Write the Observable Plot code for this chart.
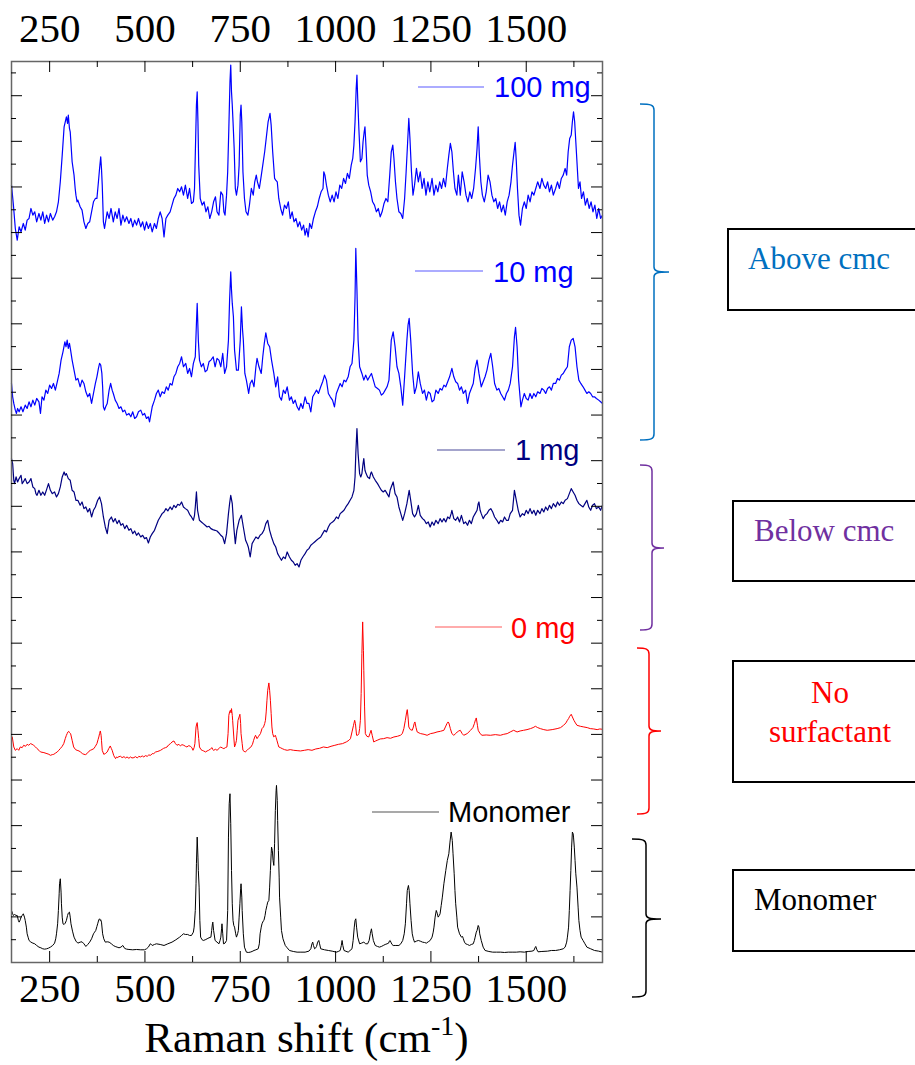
<!DOCTYPE html>
<html><head><meta charset="utf-8">
<script src="https://cdn.jsdelivr.net/npm/d3@7"></script>
<script src="https://cdn.jsdelivr.net/npm/@observablehq/plot@0.6"></script>
<style>body{margin:0;background:#fff}</style>
</head><body><div id="chart"></div>
<script>
// ---------- data ----------
const labelTicks = [250, 500, 750, 1000, 1250, 1500];
const minorXTicks = [375, 625, 875, 1125, 1375, 1625];
const yMajorTicks = d3.range(2, 40, 2);
const yMinorTicks = d3.range(1, 40, 2);
const seriesNames = ["100 mg", "10 mg", "1 mg", "0 mg", "Monomer"];
// [Raman shift (cm-1), intensity (a.u.)]
const spec100 = [[150,210],[155,150],[160,80],[165,45],[170,85],[175,70],[181,95],[186,75],[191,105],[196,110],[201,140],[206,120],[211,130],[216,100],[222,125],[227,105],[232,130],[237,95],[242,120],[247,100],[252,125],[258,105],[263,115],[268,130],[273,160],[278,220],[283,300],[288,385],[291,400],[294,415],[297,395],[299,420],[302,380],[304,370],[309,280],[314,240],[317,200],[319,180],[322,160],[324,165],[330,145],[335,135],[340,100],[345,80],[350,95],[355,100],[360,130],[365,160],[370,170],[374,170],[378,220],[381,260],[384,295],[386,260],[388,210],[391,100],[394,80],[396,95],[401,130],[406,110],[411,140],[417,100],[422,130],[427,110],[432,140],[437,90],[442,120],[447,100],[452,115],[458,95],[463,110],[468,85],[473,105],[478,90],[483,110],[489,85],[494,100],[499,75],[504,100],[509,80],[514,95],[519,70],[525,95],[530,80],[535,110],[540,130],[545,110],[550,55],[555,110],[560,120],[566,130],[571,150],[576,170],[581,180],[586,200],[591,190],[596,205],[601,180],[606,210],[612,170],[617,200],[622,155],[627,160],[630,200],[633,350],[635,450],[637,490],[639,400],[641,270],[645,170],[650,150],[655,160],[660,130],[665,145],[670,110],[675,130],[680,160],[685,175],[689,130],[694,120],[699,190],[704,180],[707,130],[710,120],[714,180],[717,250],[720,380],[723,520],[725,570],[727,490],[729,450],[731,400],[734,320],[737,200],[740,180],[744,210],[747,270],[750,420],[752,450],[754,400],[757,250],[761,170],[765,130],[770,120],[774,150],[779,200],[784,180],[788,220],[792,240],[795,220],[800,200],[804,230],[809,270],[814,310],[819,360],[823,400],[826,415],[828,425],[831,390],[835,310],[840,230],[843,225],[847,220],[851,170],[856,140],[861,120],[866,150],[871,140],[876,160],[881,110],[886,130],[891,100],[896,110],[901,85],[906,100],[911,75],[916,90],[920,60],[924,80],[928,55],[932,95],[937,80],[942,110],[947,130],[952,145],[957,170],[962,190],[967,200],[969,250],[972,240],[976,210],[981,180],[986,160],[991,180],[996,160],[1001,190],[1006,170],[1011,210],[1016,200],[1021,230],[1026,215],[1031,245],[1036,230],[1041,270],[1045,290],[1048,330],[1051,400],[1054,500],[1056,540],[1058,470],[1061,380],[1065,280],[1069,290],[1072,340],[1075,370],[1077,385],[1080,320],[1083,240],[1087,210],[1092,190],[1097,160],[1102,150],[1107,130],[1112,140],[1117,115],[1122,130],[1127,155],[1132,170],[1137,160],[1142,240],[1146,310],[1150,330],[1153,290],[1157,220],[1161,170],[1166,130],[1171,125],[1176,110],[1181,170],[1185,250],[1189,340],[1192,410],[1195,350],[1199,250],[1203,180],[1207,210],[1212,260],[1217,220],[1222,250],[1227,200],[1232,230],[1237,180],[1242,220],[1247,190],[1253,230],[1258,180],[1263,210],[1268,190],[1273,220],[1278,200],[1283,230],[1288,205],[1293,260],[1297,300],[1301,335],[1305,310],[1309,250],[1313,200],[1318,180],[1322,240],[1327,180],[1332,250],[1337,220],[1342,180],[1347,160],[1352,190],[1357,170],[1362,200],[1367,260],[1371,320],[1374,385],[1377,300],[1381,220],[1385,180],[1390,160],[1395,190],[1400,240],[1405,220],[1410,180],[1415,160],[1420,170],[1425,140],[1430,160],[1435,130],[1440,150],[1445,120],[1450,160],[1455,180],[1460,220],[1464,270],[1468,310],[1471,338],[1474,280],[1477,200],[1481,120],[1485,90],[1490,140],[1495,160],[1500,140],[1505,180],[1510,160],[1515,190],[1520,180],[1525,200],[1530,220],[1536,200],[1541,230],[1546,210],[1551,200],[1556,220],[1561,190],[1566,210],[1571,180],[1577,200],[1582,220],[1587,200],[1592,230],[1597,240],[1602,260],[1606,240],[1610,310],[1614,350],[1618,360],[1621,400],[1624,430],[1627,400],[1630,340],[1633,280],[1637,200],[1641,220],[1645,170],[1650,190],[1655,150],[1660,170],[1665,140],[1670,160],[1675,130],[1680,150],[1685,110],[1690,140],[1695,110],[1700,120]];
const spec10 = [[150,170],[153,130],[156,110],[160,90],[163,80],[166,95],[170,85],[175,100],[180,85],[186,105],[191,95],[196,115],[201,100],[206,120],[211,105],[216,125],[222,115],[226,80],[230,130],[235,120],[240,150],[245,140],[250,165],[255,155],[260,170],[265,150],[270,175],[275,200],[280,240],[285,265],[290,295],[293,280],[296,300],[299,275],[302,290],[305,270],[309,240],[314,210],[319,180],[324,185],[330,160],[335,180],[340,170],[345,145],[350,130],[355,140],[360,110],[365,140],[370,170],[374,190],[378,215],[381,230],[384,225],[387,200],[389,160],[391,100],[394,90],[397,100],[401,110],[406,150],[410,170],[414,150],[417,140],[422,120],[427,110],[432,95],[437,100],[442,85],[447,90],[452,75],[458,80],[463,70],[468,85],[473,65],[478,70],[483,85],[489,90],[494,75],[499,80],[504,65],[509,70],[512,55],[516,80],[519,100],[525,120],[530,140],[535,150],[540,130],[545,145],[551,140],[556,160],[561,150],[566,170],[571,165],[576,190],[581,200],[586,220],[591,230],[596,250],[601,220],[607,230],[612,200],[617,215],[622,190],[627,230],[632,250],[635,350],[637,410],[640,300],[643,240],[648,220],[653,230],[658,205],[663,210],[668,235],[673,240],[679,250],[684,220],[689,245],[694,240],[699,220],[704,260],[709,200],[714,220],[719,300],[722,420],[725,505],[727,450],[729,410],[732,370],[735,270],[740,210],[745,210],[750,300],[753,400],[756,330],[758,300],[762,200],[766,180],[772,140],[776,170],[781,180],[786,160],[791,220],[794,245],[799,220],[805,200],[809,250],[813,290],[817,322],[822,290],[827,280],[832,240],[838,200],[843,160],[848,190],[853,130],[858,120],[863,150],[868,140],[873,160],[879,120],[884,130],[889,110],[894,120],[899,100],[904,90],[909,110],[914,95],[920,130],[925,110],[930,110],[935,85],[940,130],[945,140],[950,150],[955,140],[961,160],[966,175],[971,195],[976,180],[981,140],[986,130],[992,120],[997,100],[1002,140],[1007,155],[1012,170],[1017,160],[1022,180],[1027,175],[1033,190],[1038,220],[1043,230],[1048,300],[1051,430],[1053,575],[1056,450],[1059,300],[1063,220],[1069,200],[1074,180],[1079,195],[1084,180],[1089,190],[1094,200],[1099,180],[1104,160],[1110,155],[1115,150],[1120,135],[1125,140],[1130,150],[1135,160],[1140,180],[1143,240],[1146,300],[1151,325],[1156,280],[1161,220],[1166,200],[1171,160],[1176,105],[1181,190],[1187,300],[1190,345],[1193,365],[1197,300],[1202,200],[1207,140],[1212,160],[1217,205],[1222,170],[1228,140],[1233,150],[1238,120],[1243,145],[1248,140],[1253,115],[1258,120],[1263,150],[1269,140],[1274,155],[1279,150],[1284,165],[1289,160],[1294,175],[1299,190],[1305,215],[1310,190],[1315,175],[1320,170],[1325,150],[1330,160],[1335,140],[1341,150],[1346,110],[1351,140],[1356,155],[1361,170],[1366,215],[1371,240],[1376,200],[1382,160],[1387,175],[1392,190],[1397,210],[1402,240],[1407,260],[1412,220],[1417,170],[1423,150],[1428,155],[1433,140],[1438,130],[1443,120],[1448,140],[1453,150],[1458,170],[1464,220],[1469,310],[1472,338],[1476,280],[1480,180],[1486,100],[1490,120],[1495,140],[1500,125],[1505,120],[1510,140],[1515,125],[1520,140],[1525,130],[1530,145],[1536,140],[1541,155],[1546,150],[1551,140],[1556,155],[1561,160],[1566,150],[1571,170],[1577,170],[1582,185],[1587,180],[1592,195],[1597,200],[1602,210],[1608,220],[1613,280],[1618,300],[1623,305],[1628,280],[1633,220],[1638,180],[1643,170],[1649,160],[1654,150],[1659,140],[1664,145],[1669,140],[1674,130],[1679,130],[1684,125],[1690,120],[1695,115],[1700,110]];
const spec1 = [[150,485],[153,470],[156,420],[158,410],[162,430],[166,415],[170,425],[175,435],[178,410],[181,415],[186,425],[191,410],[196,415],[201,425],[206,400],[211,395],[214,380],[217,375],[222,390],[227,375],[232,385],[237,375],[242,392],[247,410],[252,390],[257,380],[263,385],[268,370],[273,380],[278,400],[283,430],[288,445],[291,435],[294,440],[299,425],[304,420],[309,390],[314,385],[319,360],[324,360],[330,345],[335,355],[340,335],[345,340],[350,325],[355,335],[360,310],[365,330],[370,340],[376,360],[381,370],[386,350],[391,310],[396,280],[401,260],[406,300],[412,310],[417,295],[422,305],[427,290],[432,300],[437,285],[442,290],[447,275],[452,285],[458,270],[463,275],[468,260],[473,268],[478,255],[483,262],[489,250],[494,255],[499,245],[504,248],[509,232],[514,250],[519,260],[525,270],[530,285],[535,300],[540,310],[545,320],[550,325],[555,335],[560,328],[566,340],[571,332],[576,345],[581,338],[586,348],[591,345],[596,355],[601,340],[606,335],[612,330],[617,318],[622,310],[627,300],[630,315],[632,340],[635,385],[638,330],[643,300],[648,295],[653,290],[658,285],[663,280],[668,282],[673,275],[678,272],[684,270],[689,268],[694,262],[699,255],[704,250],[709,230],[714,260],[719,320],[722,350],[725,375],[729,350],[733,280],[737,230],[741,270],[747,300],[753,315],[758,280],[764,240],[768,230],[771,220],[776,190],[781,230],[786,240],[791,250],[797,245],[802,255],[807,260],[812,270],[817,290],[822,300],[827,270],[832,250],[838,230],[843,220],[848,200],[853,190],[858,180],[863,190],[868,185],[873,205],[879,190],[884,180],[889,175],[894,165],[899,170],[904,160],[909,180],[914,190],[920,200],[925,210],[930,215],[935,225],[940,230],[945,235],[950,240],[955,245],[961,250],[966,260],[971,270],[976,265],[981,280],[986,290],[992,295],[997,300],[1002,310],[1007,305],[1012,320],[1017,325],[1022,330],[1027,340],[1033,350],[1038,360],[1043,370],[1048,390],[1051,430],[1053,500],[1056,575],[1059,500],[1063,440],[1066,430],[1069,440],[1072,470],[1074,485],[1077,450],[1080,440],[1084,430],[1089,425],[1092,440],[1094,445],[1099,430],[1104,420],[1110,410],[1115,400],[1120,390],[1125,385],[1130,390],[1135,380],[1140,370],[1143,390],[1146,400],[1151,415],[1156,380],[1161,370],[1166,340],[1171,320],[1176,300],[1181,320],[1187,350],[1190,370],[1193,390],[1197,360],[1202,320],[1207,310],[1212,320],[1217,345],[1222,315],[1228,305],[1233,300],[1238,290],[1243,295],[1248,280],[1253,295],[1258,285],[1263,300],[1269,290],[1274,305],[1279,295],[1284,305],[1289,295],[1294,310],[1299,305],[1303,320],[1305,330],[1310,305],[1315,300],[1320,310],[1325,295],[1330,315],[1336,290],[1341,295],[1346,285],[1351,300],[1356,290],[1361,310],[1366,320],[1371,330],[1374,350],[1376,355],[1379,330],[1382,320],[1387,305],[1392,315],[1397,320],[1402,330],[1407,335],[1412,325],[1417,310],[1423,300],[1428,290],[1433,300],[1438,295],[1443,310],[1448,300],[1453,300],[1458,320],[1464,330],[1469,390],[1474,360],[1479,330],[1484,310],[1490,320],[1495,315],[1500,330],[1505,320],[1510,335],[1515,320],[1520,330],[1525,315],[1530,330],[1536,320],[1541,335],[1546,325],[1551,340],[1556,330],[1561,345],[1566,335],[1571,350],[1577,340],[1582,355],[1587,345],[1592,355],[1597,350],[1602,360],[1608,365],[1613,380],[1618,395],[1623,385],[1628,375],[1633,360],[1638,350],[1643,345],[1649,340],[1654,350],[1659,360],[1664,340],[1669,330],[1674,345],[1679,350],[1684,335],[1690,340],[1695,330],[1700,345]];
const spec0 = [[152,190],[156,160],[160,150],[165,155],[169,150],[173,160],[178,158],[182,165],[187,162],[191,168],[195,165],[200,170],[204,168],[208,165],[213,160],[217,155],[222,150],[226,145],[235,143],[243,140],[248,138],[252,135],[257,137],[261,138],[266,142],[270,145],[274,150],[278,155],[283,162],[287,170],[291,185],[294,195],[296,200],[298,205],[300,207],[302,203],[305,200],[309,180],[313,160],[318,152],[322,150],[327,148],[331,145],[336,140],[340,138],[344,137],[348,140],[353,147],[357,150],[361,152],[366,155],[370,162],[374,170],[377,182],[379,190],[381,200],[383,208],[385,195],[386,180],[388,150],[392,138],[396,140],[401,145],[405,155],[409,163],[412,155],[414,150],[418,135],[421,128],[423,125],[425,130],[427,128],[432,131],[436,132],[440,128],[445,131],[449,127],[453,130],[458,126],[462,130],[466,127],[471,128],[475,131],[480,127],[484,132],[488,130],[493,133],[497,130],[501,134],[506,132],[510,136],[515,135],[519,140],[523,140],[528,145],[532,146],[537,148],[541,150],[545,153],[549,156],[554,158],[558,160],[562,166],[567,170],[571,175],[576,178],[580,170],[584,165],[589,168],[593,163],[597,167],[602,165],[606,162],[610,160],[615,164],[619,162],[623,158],[626,150],[629,158],[631,170],[634,220],[636,230],[637,233],[639,210],[641,185],[643,160],[647,152],[650,150],[654,148],[659,145],[663,148],[667,150],[672,154],[676,158],[678,152],[680,150],[685,153],[689,150],[694,155],[698,160],[703,157],[707,155],[711,158],[715,160],[718,200],[720,255],[722,265],[724,270],[726,262],[727,275],[729,255],[730,240],[733,190],[735,160],[738,170],[740,180],[742,210],[744,240],[747,250],[749,258],[751,230],[752,200],[755,170],[757,150],[760,147],[763,145],[768,150],[772,155],[776,158],[778,160],[782,168],[785,180],[788,190],[790,195],[792,190],[794,185],[798,192],[803,200],[807,215],[811,220],[814,230],[816,240],[818,265],[820,300],[822,330],[825,352],[827,330],[829,300],[831,260],[833,220],[835,200],[838,190],[840,192],[842,195],[844,188],[846,180],[849,168],[851,160],[855,158],[860,155],[866,152],[873,150],[881,152],[890,150],[899,149],[908,148],[918,150],[928,152],[938,150],[948,154],[958,156],[968,160],[978,158],[988,162],[998,165],[1008,168],[1018,170],[1028,175],[1035,180],[1039,185],[1043,205],[1047,225],[1050,240],[1052,230],[1055,195],[1058,195],[1061,200],[1063,215],[1065,240],[1067,320],[1069,440],[1071,535],[1073,450],[1074,390],[1076,280],[1078,200],[1082,192],[1087,190],[1090,200],[1093,210],[1096,195],[1100,175],[1105,178],[1109,180],[1117,184],[1126,185],[1135,188],[1144,186],[1153,190],[1162,192],[1170,195],[1175,200],[1179,215],[1183,240],[1186,262],[1188,272],[1190,250],[1192,220],[1196,212],[1201,210],[1204,220],[1206,230],[1208,235],[1211,218],[1214,205],[1219,202],[1223,200],[1232,198],[1240,195],[1249,200],[1258,202],[1266,205],[1275,207],[1284,210],[1288,220],[1292,230],[1295,235],[1297,232],[1301,215],[1305,200],[1310,195],[1315,200],[1319,205],[1323,208],[1327,210],[1332,200],[1336,195],[1345,200],[1354,210],[1360,218],[1364,230],[1367,242],[1369,247],[1372,225],[1374,210],[1379,200],[1384,195],[1395,196],[1406,195],[1419,197],[1432,195],[1441,198],[1450,200],[1458,205],[1467,210],[1476,205],[1484,208],[1493,210],[1502,212],[1511,215],[1518,218],[1524,222],[1530,218],[1537,215],[1546,212],[1555,210],[1568,212],[1581,215],[1590,218],[1598,225],[1604,232],[1608,240],[1611,245],[1614,252],[1618,258],[1621,250],[1625,240],[1629,232],[1633,225],[1642,222],[1651,220],[1660,218],[1668,215],[1677,214],[1686,212],[1693,214],[1700,213]];
const specMono = [[150,180],[153,170],[155,165],[158,168],[162,165],[165,165],[168,150],[170,145],[173,152],[175,160],[178,165],[181,170],[184,160],[186,150],[189,130],[191,110],[194,98],[196,90],[199,87],[201,85],[206,82],[211,80],[216,75],[222,70],[227,68],[232,65],[237,64],[242,65],[247,67],[252,70],[258,75],[263,82],[266,95],[268,110],[271,140],[273,180],[275,230],[276,260],[278,275],[280,235],[281,200],[283,160],[285,140],[288,138],[291,142],[294,150],[297,165],[299,172],[302,175],[304,160],[306,140],[310,118],[314,100],[319,88],[324,82],[330,85],[335,86],[340,80],[345,72],[350,78],[355,85],[360,95],[365,110],[368,115],[371,120],[374,132],[376,140],[379,152],[381,155],[383,150],[384,152],[386,145],[389,110],[392,95],[396,85],[401,86],[406,85],[412,80],[417,75],[422,72],[427,70],[432,68],[437,70],[442,75],[447,66],[452,64],[458,63],[468,62],[478,63],[489,62],[499,62],[504,65],[509,70],[514,80],[517,78],[519,75],[525,78],[530,80],[540,78],[550,75],[560,80],[571,85],[581,92],[591,100],[596,105],[601,110],[606,108],[612,108],[617,105],[622,105],[627,115],[629,130],[632,180],[634,260],[635,320],[637,400],[639,340],[640,300],[642,250],[644,150],[646,100],[650,92],[653,90],[658,92],[663,95],[668,98],[673,100],[675,120],[677,140],[678,145],[680,120],[684,90],[689,85],[694,80],[697,90],[699,100],[701,125],[702,140],[704,110],[706,80],[710,82],[714,90],[717,180],[719,400],[721,500],[723,530],[725,440],[727,300],[729,200],[731,150],[733,135],[735,130],[738,110],[740,100],[743,110],[745,120],[747,160],[749,200],[751,245],[752,260],[754,220],[755,180],[758,110],[761,70],[766,55],[771,54],[776,55],[781,57],[786,60],[791,62],[797,65],[800,80],[802,110],[805,130],[807,140],[810,148],[812,150],[815,165],[817,180],[820,195],[822,205],[825,210],[827,250],[829,300],[831,350],[832,370],[834,360],[836,330],[838,315],[840,380],[842,480],[844,540],[845,555],[847,510],[848,450],[850,360],[852,280],[853,220],[856,160],[858,120],[862,95],[868,75],[873,68],[879,60],[889,57],[899,55],[909,55],[920,55],[930,58],[935,65],[938,80],[940,85],[942,75],[945,65],[948,68],[950,72],[953,85],[956,90],[958,80],[961,65],[971,62],[981,60],[991,58],[1002,55],[1007,57],[1012,60],[1015,75],[1017,90],[1019,75],[1022,60],[1033,55],[1043,65],[1046,90],[1049,130],[1051,150],[1053,155],[1055,130],[1058,100],[1063,80],[1068,82],[1074,85],[1079,80],[1084,80],[1088,90],[1091,110],[1094,125],[1096,110],[1099,90],[1104,75],[1110,72],[1115,70],[1120,72],[1125,75],[1130,78],[1135,80],[1139,82],[1141,88],[1143,90],[1145,85],[1148,78],[1151,75],[1158,75],[1166,75],[1171,80],[1176,90],[1180,110],[1183,140],[1186,200],[1188,240],[1191,255],[1193,240],[1195,200],[1198,150],[1201,110],[1204,95],[1207,85],[1212,88],[1217,90],[1222,88],[1228,85],[1233,84],[1238,82],[1243,86],[1248,90],[1253,100],[1256,115],[1258,130],[1261,160],[1264,180],[1267,170],[1269,160],[1272,165],[1274,170],[1277,195],[1280,220],[1284,260],[1289,300],[1293,330],[1297,350],[1300,385],[1303,415],[1306,390],[1308,350],[1311,290],[1313,240],[1315,200],[1318,160],[1320,130],[1325,110],[1330,100],[1333,102],[1335,95],[1338,85],[1341,80],[1346,78],[1351,75],[1356,78],[1361,80],[1364,90],[1366,100],[1369,115],[1371,120],[1374,135],[1376,130],[1378,110],[1382,90],[1387,70],[1392,60],[1402,57],[1412,55],[1422,55],[1433,55],[1443,54],[1453,55],[1463,55],[1474,55],[1484,56],[1495,55],[1505,57],[1515,58],[1520,60],[1523,68],[1525,72],[1528,62],[1531,56],[1541,57],[1556,58],[1566,60],[1577,60],[1587,62],[1597,65],[1602,70],[1606,85],[1608,100],[1611,130],[1613,180],[1615,240],[1617,300],[1619,370],[1621,415],[1623,410],[1624,400],[1626,370],[1628,330],[1630,290],[1633,250],[1636,190],[1638,150],[1641,120],[1644,100],[1649,90],[1654,80],[1659,70],[1669,65],[1679,60],[1690,58],[1700,55]];
const spectra = [spec100, spec10, spec1, spec0, specMono];
const stackOffsets = [31.01, 22.90, 15.00, 7.11, -0.35]; // vertical stacking (tick units)
const countsPerTick = 68.4;

// ---------- layout / style ----------
const W = 915, H = 1065;
const M = {top: 61, right: 313, bottom: 103, left: 11};
const FW = W - M.left - M.right, FH = H - M.top - M.bottom;
const lineColors = ["#0000ff", "#0000ff", "#000080", "#ff0000", "#000000"];
const lineWidths = [1.2, 1.2, 1.2, 1, 1];
const legend = [
  {x1: 418, x2: 484, y: 87, tx: 494, ty: 97, line: "#5a5aff", color: "#0000ff"},
  {x1: 415, x2: 483, y: 271, tx: 493, ty: 282, line: "#5a5aff", color: "#0000ff"},
  {x1: 437, x2: 505, y: 450, tx: 515, ty: 460, line: "#4a4a9a", color: "#000080"},
  {x1: 435, x2: 502, y: 627, tx: 511, ty: 638, line: "#ff5a5a", color: "#ff0000"},
  {x1: 372, x2: 439, y: 812, tx: 448, ty: 822, line: "#555555", color: "#000000"}
];
const braces = [
  {top: 104, mid: 272, bot: 440, xt: 640, xv: 654, xm: 669, color: "#0070c0"},
  {top: 465, mid: 548, bot: 630, xt: 640, xv: 652, xm: 664, color: "#7030a0"},
  {top: 648, mid: 731, bot: 814, xt: 637, xv: 649, xm: 661, color: "#ff0000"},
  {top: 839, mid: 919, bot: 997, xt: 632, xv: 646, xm: 661, color: "#000000"}
];
const boxes = [
  {x: 728, y: 229, h: 81, lines: ["Above cmc"], tx: 748, ty: [269], anchor: "start", color: "#0070c0"},
  {x: 733, y: 501, h: 80, lines: ["Below cmc"], tx: 754, ty: [541], anchor: "start", color: "#7030a0"},
  {x: 733, y: 661, h: 121, lines: ["No", "surfactant"], tx: 830, ty: [703, 742], anchor: "middle", color: "#ff0000"},
  {x: 733, y: 870, h: 81, lines: ["Monomer"], tx: 754, ty: [910], anchor: "start", color: "#000000"}
];

const rows = spectra.map((s, i) => s.map(([x, c]) => ({x, y: stackOffsets[i] + c / countsPerTick, name: seriesNames[i]})));

const serif = "'Liberation Serif', 'Times New Roman', serif";
const sans = "'Liberation Sans', Arial, sans-serif";

const plot = Plot.plot({
  width: W, height: H,
  marginTop: M.top, marginRight: M.right, marginBottom: M.bottom, marginLeft: M.left,
  x: {domain: [150, 1700], axis: null},
  y: {domain: [0, 39.5], axis: null},
  style: {background: "white", overflow: "hidden"},
  marks: [
    ...rows.map((r, i) => Plot.line(r, {x: "x", y: "y", stroke: lineColors[i], strokeWidth: lineWidths[i]})),
    Plot.frame({stroke: "#666", strokeWidth: 1.5}),
    Plot.tickX(labelTicks, {x: d => d, stroke: "black", insetBottom: FH - 11}),
    Plot.tickX(minorXTicks, {x: d => d, stroke: "black", insetBottom: FH - 6}),
    Plot.tickX(labelTicks, {x: d => d, stroke: "black", insetTop: FH - 11}),
    Plot.tickX(minorXTicks, {x: d => d, stroke: "black", insetTop: FH - 6}),
    Plot.tickY(yMajorTicks, {y: d => d, stroke: "black", insetRight: FW - 11}),
    Plot.tickY(yMinorTicks, {y: d => d, stroke: "black", insetRight: FW - 5}),
    Plot.tickY(yMajorTicks, {y: d => d, stroke: "black", insetLeft: FW - 11}),
    Plot.tickY(yMinorTicks, {y: d => d, stroke: "black", insetLeft: FW - 5}),
    Plot.axisX(labelTicks, {anchor: "top", tickSize: 0, tickPadding: 20, fontSize: 41, fontFamily: serif, fill: "black", label: null, tickFormat: d => String(d)}),
    Plot.axisX(labelTicks, {anchor: "bottom", tickSize: 0, tickPadding: 10, fontSize: 41, fontFamily: serif, fill: "black", label: null, tickFormat: d => String(d)})
  ]
});
document.getElementById("chart").appendChild(plot);

const svg = d3.select(plot);
// axis title
const title = svg.append("text").attr("x", M.left + FW / 2).attr("y", 1052)
  .attr("text-anchor", "middle").attr("font-family", serif).attr("font-size", 43).attr("fill", "black");
title.append("tspan").text("Raman shift (cm");
title.append("tspan").attr("font-size", 28).attr("dy", -17).text("-1");
title.append("tspan").attr("dy", 17).text(")");

// legend
legend.forEach((l, i) => {
  svg.append("line").attr("x1", l.x1).attr("x2", l.x2).attr("y1", l.y).attr("y2", l.y)
    .attr("stroke", l.line).attr("stroke-width", 1.2);
  svg.append("text").attr("x", l.tx).attr("y", l.ty).attr("text-anchor", "start")
    .attr("font-family", sans).attr("font-size", 29)
    .attr("fill", l.color).text(seriesNames[i]);
});

// braces
braces.forEach(b => {
  const p = `M${b.xt},${b.top} C${b.xv - 3},${b.top} ${b.xv},${b.top + 1} ${b.xv},${b.top + 6} ` +
    `L${b.xv},${b.mid - 5} C${b.xv},${b.mid - 1} ${b.xv + 3},${b.mid} ${b.xm},${b.mid} ` +
    `C${b.xv + 3},${b.mid} ${b.xv},${b.mid + 1} ${b.xv},${b.mid + 5} ` +
    `L${b.xv},${b.bot - 6} C${b.xv},${b.bot - 1} ${b.xv - 3},${b.bot} ${b.xt},${b.bot}`;
  svg.append("path").attr("d", p).attr("fill", "none").attr("stroke", b.color).attr("stroke-width", 1.5);
});

// boxes
boxes.forEach(b => {
  svg.append("rect").attr("x", b.x).attr("y", b.y).attr("width", 220).attr("height", b.h)
    .attr("fill", "white").attr("stroke", "black").attr("stroke-width", 2);
  b.lines.forEach((t, j) => {
    svg.append("text").attr("x", b.tx).attr("y", b.ty[j]).attr("text-anchor", b.anchor)
      .attr("font-family", serif).attr("font-size", 31).attr("fill", b.color).text(t);
  });
});
</script></body></html>
